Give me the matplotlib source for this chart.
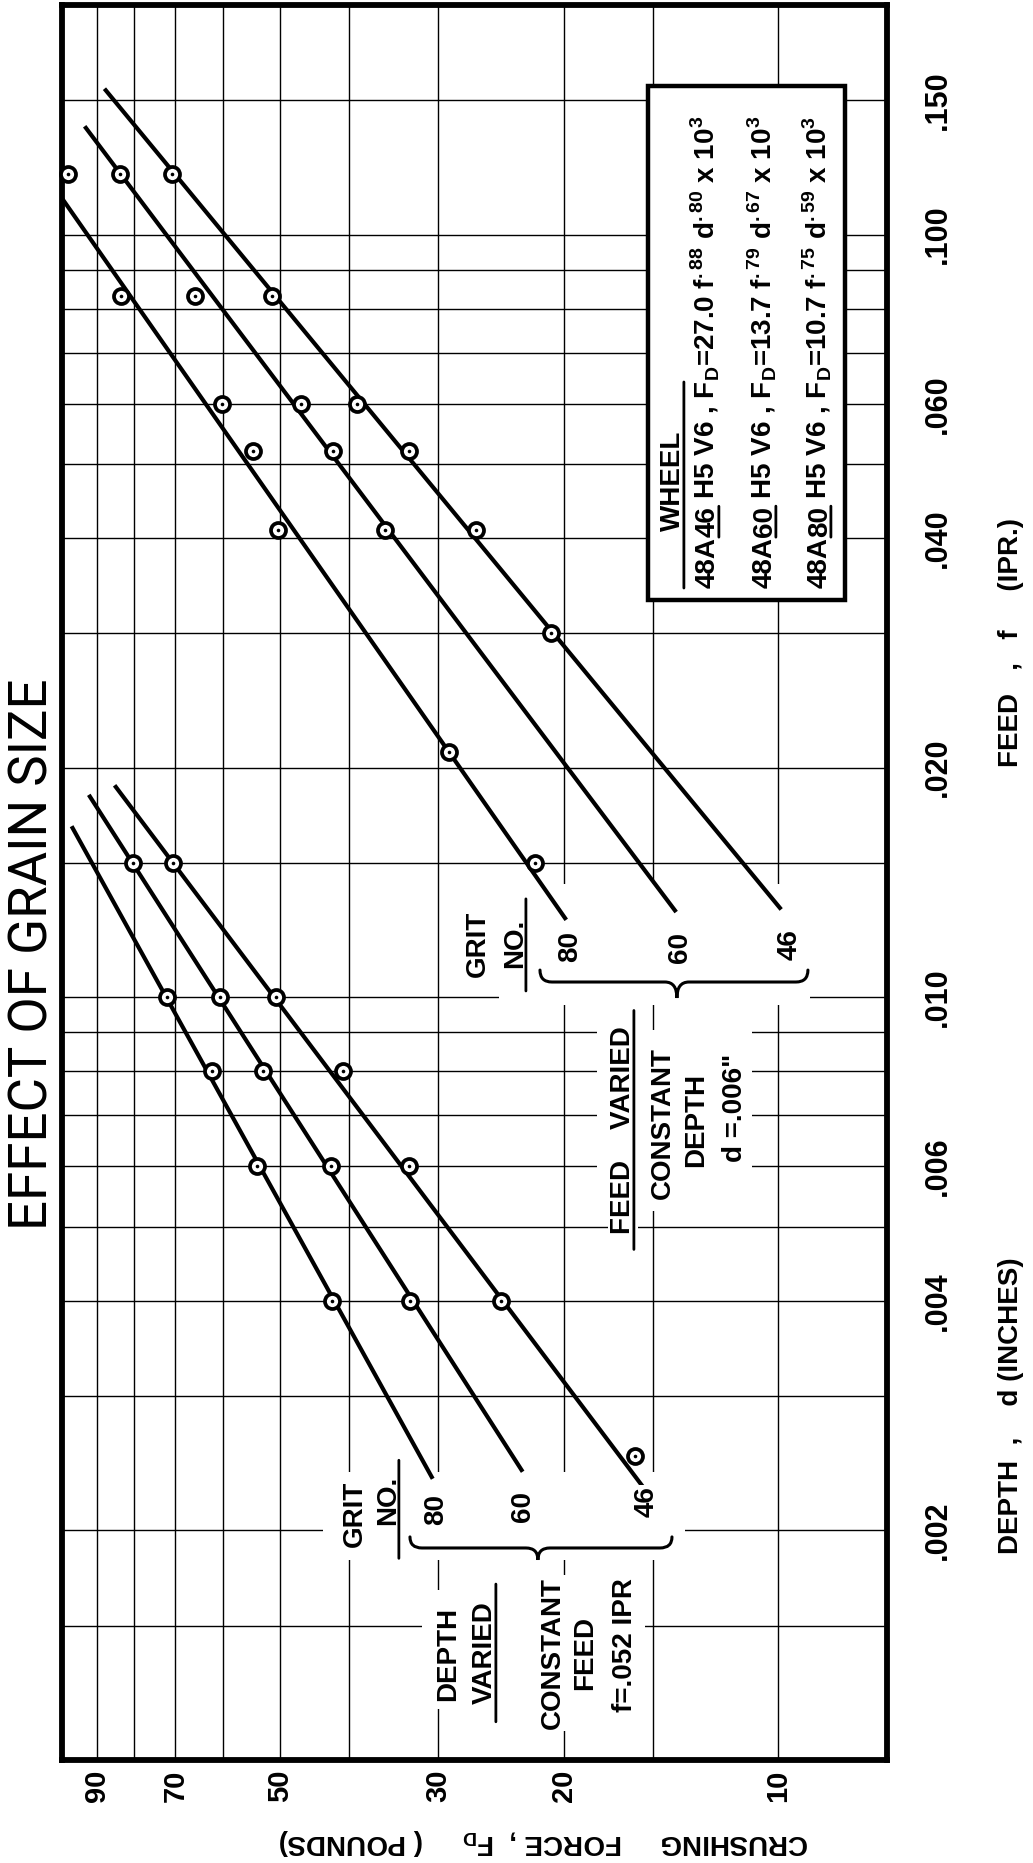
import matplotlib
matplotlib.use("Agg")
import matplotlib.pyplot as plt
from matplotlib import font_manager
from matplotlib.patches import Rectangle, PathPatch
from matplotlib.path import Path
from matplotlib.ticker import FixedLocator, FixedFormatter, NullLocator

# --- gridlines and tick labels ---------------------------------------
force_grid = [90, 80, 70, 60, 50, 40, 30, 20, 15, 10]
force_text = ["90", "", "70", "", "50", "", "30", "20", "", "10"]

size_grid = [0.0015, 0.002, 0.003, 0.004, 0.005, 0.006, 0.007, 0.008, 0.009,
             0.010, 0.015, 0.020, 0.030, 0.040, 0.050, 0.060, 0.070, 0.080,
             0.090, 0.100, 0.150]
size_text = ["", ".002", "", ".004", "", ".006", "", "", "", ".010", "",
             ".020", "", ".040", "", ".060", "", "", "", ".100", ".150"]

# --- feed varied, constant depth d = .006 -----------------------------
feed_f_80 = [0.120, 0.083, 0.060, 0.052, 0.041, 0.021, 0.015]
feed_F_80 = [98.9, 83.4, 60.3, 54.4, 50.2, 28.9, 21.9]
feed_f_60 = [0.120, 0.083, 0.060, 0.052, 0.041]
feed_F_60 = [83.7, 65.6, 46.7, 42.1, 35.6]
feed_f_46 = [0.120, 0.083, 0.060, 0.052, 0.041, 0.030]
feed_F_46 = [70.8, 51.3, 38.9, 32.9, 26.5, 20.8]

# fitted lines, end points (feed, force)
feed_fit_f_80 = [0.1116, 0.0127]
feed_fit_F_80 = [100.9, 19.9]
feed_fit_f_60 = [0.138, 0.0130]
feed_fit_F_60 = [93.4, 13.96]
feed_fit_f_46 = [0.1546, 0.0131]
feed_fit_F_46 = [87.6, 9.95]

# --- depth varied, constant feed f = .052 ----------------------------
depth_d_80 = [0.010, 0.008, 0.006, 0.004]
depth_F_80 = [72.0, 62.1, 53.7, 42.2]
depth_d_60 = [0.015, 0.010, 0.008, 0.006, 0.004]
depth_F_60 = [80.2, 60.6, 52.7, 42.3, 32.8]
depth_d_46 = [0.015, 0.010, 0.008, 0.006, 0.004, 0.0025]
depth_F_46 = [70.6, 50.6, 40.8, 32.9, 24.5, 15.9]

depth_fit_d_80 = [0.01667, 0.00235]
depth_fit_F_80 = [97.5, 30.6]
depth_fit_d_60 = [0.01833, 0.0024]
depth_fit_F_60 = [92.2, 22.9]
depth_fit_d_46 = [0.01887, 0.00228]
depth_fit_F_46 = [84.8, 15.47]

# --- wheel equations ---------------------------------------------------
wheel_grit = ["46", "60", "80"]
wheel_coef = ["27.0", "13.7", "10.7"]
wheel_exp_f = [".88", ".79", ".75"]
wheel_exp_d = [".80", ".67", ".59"]

# --- fonts -------------------------------------------------------------
installed = {f.name for f in font_manager.fontManager.ttflist}
BODY = "Liberation Sans" if "Liberation Sans" in installed else "DejaVu Sans"
TITLE = next((n for n in ("Roboto", "Lato", "Open Sans") if n in installed), BODY)
plt.rcParams["font.family"] = [BODY, "DejaVu Sans"]
plt.rcParams["font.weight"] = "bold"
plt.rcParams["axes.labelweight"] = "bold"

fig = plt.figure(figsize=(10.33, 18.63), dpi=100)
ax = fig.add_axes([0.0597, 0.0553, 0.7986, 0.9420])
ax.set_xscale("log")
ax.set_yscale("log")
ax.set_xlim(101, 7.05)
ax.set_ylim(0.001, 0.2)

ax.xaxis.set_major_locator(FixedLocator(force_grid))
ax.xaxis.set_major_formatter(FixedFormatter(force_text))
ax.xaxis.set_minor_locator(NullLocator())
ax.yaxis.set_major_locator(FixedLocator(size_grid))
ax.yaxis.set_major_formatter(FixedFormatter(size_text))
ax.yaxis.set_minor_locator(NullLocator())

ax.tick_params(axis="x", which="both", length=0, pad=7, labelsize=21,
               labelrotation=90)
ax.tick_params(axis="y", which="both", length=0, pad=26, labelsize=22,
               labelrotation=90, left=False, right=False,
               labelleft=False, labelright=True)
for t in ax.yaxis.get_major_ticks():
    t.label2.set_verticalalignment("center")

ax.set_axisbelow(True)
ax.grid(True, which="major", color="black", linewidth=1.0)
for s in ax.spines.values():
    s.set_linewidth(4.2)

# blank out the grid behind the lettering
for x0, y0, w, h in [(0.317, 0.114, 0.439, 0.050),
                     (0.437, 0.029, 0.270, 0.068),
                     (0.530, 0.430, 0.377, 0.069),
                     (0.649, 0.313, 0.188, 0.103)]:
    ax.add_patch(Rectangle((x0, y0), w, h, transform=ax.transAxes,
                           facecolor="white", edgecolor="none", zorder=1))


def series(F, v, fitF, fitv):
    ax.plot(fitF, fitv, color="black", lw=3.0, zorder=2)
    ax.plot(F, v, ls="none", marker="o", ms=10.8, mfc="white", mec="black",
            mew=2.7, zorder=3, clip_on=False)
    ax.plot(F, v, ls="none", marker="o", ms=2.6, mfc="black", mec="none",
            zorder=4, clip_on=False)


series(feed_F_80, feed_f_80, feed_fit_F_80, feed_fit_f_80)
series(feed_F_60, feed_f_60, feed_fit_F_60, feed_fit_f_60)
series(feed_F_46, feed_f_46, feed_fit_F_46, feed_fit_f_46)
series(depth_F_80, depth_d_80, depth_fit_F_80, depth_fit_d_80)
series(depth_F_60, depth_d_60, depth_fit_F_60, depth_fit_d_60)
series(depth_F_46, depth_d_46, depth_fit_F_46, depth_fit_d_46)


def label(x, y, s, size=20, ha="center", z=5):
    return ax.text(x, y, s, transform=ax.transAxes, rotation=90,
                   rotation_mode="anchor", ha=ha, va="baseline",
                   fontsize=size, zorder=z,
                   bbox=dict(facecolor="white", edgecolor="none", pad=1.5))


def underline(xart, yart, y0, y1, xf=0.92, lw=2.0):
    ax.annotate("", xy=(xf, y1), xycoords=(xart, yart),
                xytext=(xf, y0), textcoords=(xart, yart),
                arrowprops=dict(arrowstyle="-", lw=lw, color="black",
                                shrinkA=0, shrinkB=0), zorder=6)


def brace(x0, x1, xm, yl, up, down, r=0.0145, lw=2.2):
    verts = [(x0, yl + up), (x0, yl), (x0 + r, yl), (xm - r, yl),
             (xm, yl), (xm, yl - down), (xm, yl), (xm + r, yl),
             (x1 - r, yl), (x1, yl), (x1, yl + up)]
    codes = [Path.MOVETO, Path.CURVE3, Path.CURVE3, Path.LINETO,
             Path.CURVE3, Path.CURVE3, Path.CURVE3, Path.CURVE3,
             Path.LINETO, Path.CURVE3, Path.CURVE3]
    ax.add_patch(PathPatch(Path(verts, codes), transform=ax.transAxes,
                           fill=False, lw=lw, zorder=5, capstyle="round"))


# depth varied group
g = label(0.3640, 0.1402, "GRIT")
n = label(0.4040, 0.1481, "NO.")
underline(n, g, -0.17, 1.31)
label(0.4622, 0.1430, "80")
label(0.5676, 0.1442, "60")
label(0.7180, 0.1470, "46")
brace(0.4222, 0.7398, 0.5773, 0.1208, 0.0063, 0.0068)
label(0.4767, 0.0604, "DEPTH")
v = label(0.5216, 0.0610, "VARIED")
underline(v, v, -0.17, 1.17)
label(0.6040, 0.0610, "CONSTANT")
label(0.6428, 0.0610, "FEED")
label(0.6913, 0.0655, "f=.052 IPR")

# feed varied group
g = label(0.5131, 0.4650, "GRIT")
n = label(0.5580, 0.4655, "NO.")
underline(n, g, -0.21, 1.18)
label(0.6246, 0.4638, "80")
label(0.7579, 0.4627, "60")
label(0.8913, 0.4644, "46")
brace(0.5798, 0.9046, 0.7458, 0.4433, 0.0068, 0.0091)
fv = label(0.6889, 0.3590, "FEED    VARIED")
underline(fv, fv, -0.075, 1.075)
label(0.7374, 0.3630, "CONSTANT")
label(0.7774, 0.3647, "DEPTH")
label(0.8246, 0.3715, 'd =.006"')

# wheel legend
ax.add_patch(Rectangle((0.7107, 0.6610), 0.2388, 0.2928,
                       transform=ax.transAxes, facecolor="white",
                       edgecolor="black", lw=3.2, zorder=5))
wheel = label(0.7495, 0.7290, "WHEEL", z=6)
underline(wheel, "axes fraction", 0.6678, 0.7852)

row_x = [0.7919, 0.8610, 0.9277]
row_y0 = 0.6678
for i in range(3):
    tail = (" H5 V6 , F$_\\mathregular{D}$=" + wheel_coef[i]
            + " f$^\\mathregular{" + wheel_exp_f[i] + "}$"
            + " d$^\\mathregular{" + wheel_exp_d[i] + "}$"
            + " x 10$^\\mathregular{3}$")
    kw = dict(rotation=90, rotation_mode="anchor", ha="left",
              va="baseline", fontsize=20, zorder=6)
    a = ax.text(row_x[i], row_y0, "48A", transform=ax.transAxes, **kw)
    b = ax.annotate(wheel_grit[i], xy=(row_x[i], 1.0),
                    xycoords=("axes fraction", a), **kw)
    ax.annotate(tail, xy=(row_x[i], 1.0), xycoords=("axes fraction", b), **kw)
    underline(b, b, 0.0, 1.0)

# axis titles
ax.set_xlabel("CRUSHING     FORCE ,  F$_\\mathregular{D}$     ( POUNDS)",
              fontsize=20, fontweight="bold")
ax.xaxis.set_label_coords(0.5846, -0.0427)
ax.xaxis.label.set(rotation=180, rotation_mode="anchor", ha="center",
                   va="baseline")
ax.text(1.1592, 0.6365, "FEED   ,   f     (IPR.)", transform=ax.transAxes,
        rotation=90, rotation_mode="anchor", ha="center", va="baseline",
        fontsize=20)
ax.text(1.1592, 0.2017, "DEPTH  ,    d (INCHES)", transform=ax.transAxes,
        rotation=90, rotation_mode="anchor", ha="center", va="baseline",
        fontsize=20)

fig.text(0.0455, 0.4879, "EFFECT OF GRAIN SIZE", rotation=90,
         rotation_mode="anchor", ha="center", va="baseline", fontsize=38,
         family=[TITLE, "DejaVu Sans"], weight="normal", color="black")

fig.savefig("out.png", dpi=100)
